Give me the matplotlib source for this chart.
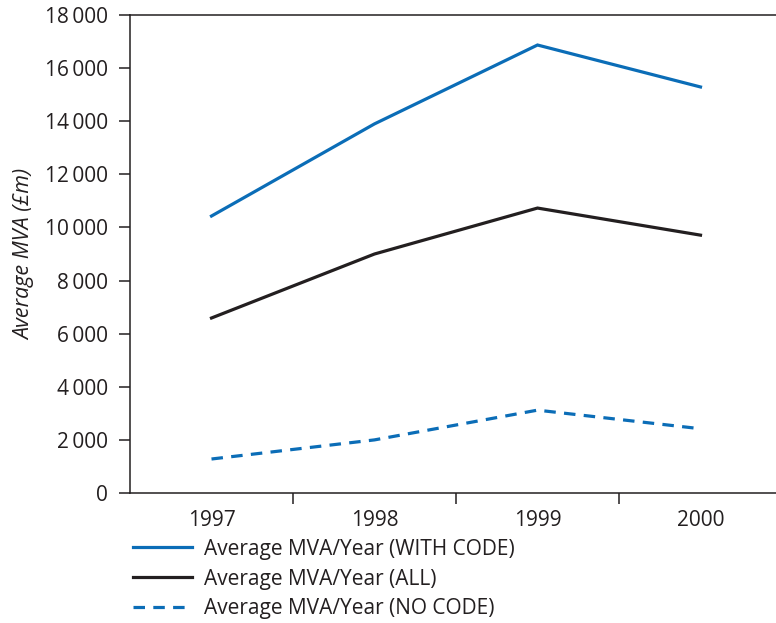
import numpy as np
import matplotlib
matplotlib.use("Agg")
import matplotlib.pyplot as plt
from matplotlib.ticker import FuncFormatter, FixedLocator

plt.rcParams['font.family'] = ['Open Sans', 'DejaVu Sans']

years = ["1997", "1998", "1999", "2000"]
with_code = [10430, 13900, 16870, 15290]
all_firms = [6590, 9000, 10730, 9710]
no_code = [1280, 2000, 3120, 2420]

blue = "#0b6db7"
dark = "#231f20"

fig = plt.figure(figsize=(7.76, 6.23), dpi=100)
ax = fig.add_axes([130 / 776, 1 - 493 / 623, 652 / 776, 478 / 623])

x = np.arange(len(years))
l1, = ax.plot(x, with_code, color=blue, lw=2.3, solid_joinstyle="miter")
l2, = ax.plot(x, all_firms, color=dark, lw=2.3, solid_joinstyle="miter")
l3, = ax.plot(x, no_code, color=blue, lw=2.3, dashes=(3.6, 2.6))

ax.set_xlim(-0.5, 3.5)
ax.set_ylim(0, 18000)
ax.set_yticks(np.arange(0, 18001, 2000))
ax.yaxis.set_major_formatter(FuncFormatter(
    lambda v, p: "0" if v == 0 else f"{int(v) // 1000}\u2009{int(v) % 1000:03d}"))
ax.set_xticks(x)
ax.set_xticklabels(years)
ax.xaxis.set_minor_locator(FixedLocator([0.5, 1.5, 2.5]))

ax.tick_params(axis="y", direction="out", length=8, width=1.1, color=dark,
               pad=8, labelsize=15, labelcolor=dark)
ax.tick_params(axis="x", which="major", length=0, pad=12, labelsize=15, labelcolor=dark)
ax.tick_params(axis="x", which="minor", direction="out", length=8, width=1.1, color=dark)

ax.spines["right"].set_visible(False)
for s in ["left", "bottom", "top"]:
    ax.spines[s].set_linewidth(1.1)
    ax.spines[s].set_color(dark)

ax.set_ylabel("Average MVA (£m)", fontsize=15.5, style="italic", color=dark, labelpad=7)

fig.legend([l1, l2, l3],
           ["Average MVA/Year (WITH CODE)", "Average MVA/Year (ALL)", "Average MVA/Year (NO CODE)"],
           loc="upper left", bbox_to_anchor=(114 / 776, 1 - 520 / 623), frameon=False,
           fontsize=15, handlelength=2.85, handletextpad=0.55, labelspacing=0.42,
           labelcolor=dark)

fig.savefig("out.png", dpi=100)
